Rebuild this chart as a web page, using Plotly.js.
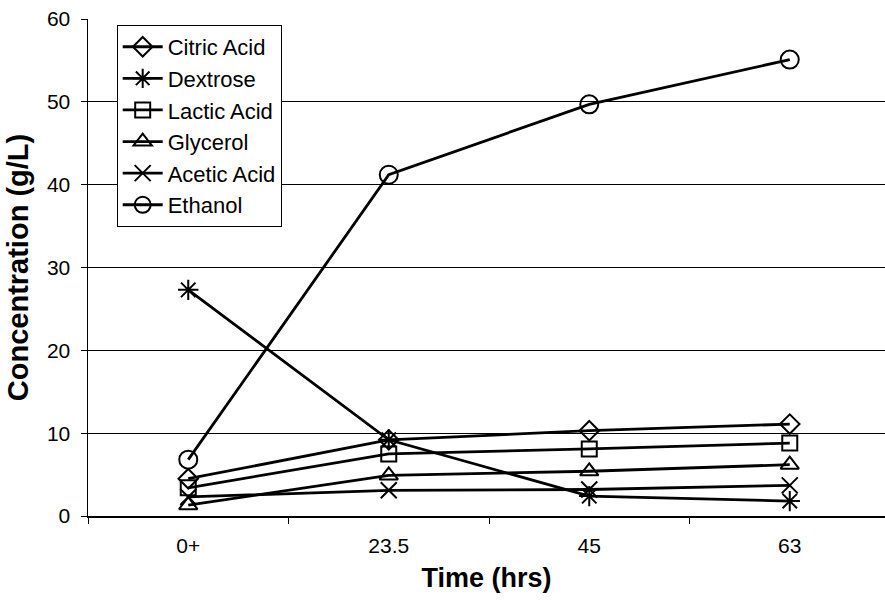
<!DOCTYPE html>
<html>
<head>
<meta charset="utf-8">
<script src="https://cdn.plot.ly/plotly-3.0.1.min.js"></script>
<style>
  html, body { margin: 0; padding: 0; background: #fff; }
  #chart { width: 885px; height: 602px; }
</style>
</head>
<body>
<div id="chart"></div>
<script>
const times = ["0+", "23.5", "45", "63"];
const citricAcid = [4.5, 9.2, 10.3, 11.1];
const dextrose = [27.3, 9.2, 2.4, 1.8];
const lacticAcid = [3.4, 7.5, 8.1, 8.8];
const glycerol = [1.3, 4.9, 5.4, 6.2];
const aceticAcid = [2.3, 3.1, 3.2, 3.7];
const ethanol = [6.8, 41.2, 49.7, 55.1];
const yTicks = [0, 10, 20, 30, 40, 50, 60];

const seriesNames = ["Citric Acid", "Dextrose", "Lactic Acid", "Glycerol", "Acetic Acid", "Ethanol"];
const seriesValues = [citricAcid, dextrose, lacticAcid, glycerol, aceticAcid, ethanol];
const symbols = ["diamond-open", "asterisk-open", "square-open", "triangle-up-open", "x-thin-open", "circle-open"];
const sizes = [15, 17, 15, 16, 16, 18];

const traces = seriesNames.map((name, i) => ({
  type: "scatter",
  mode: "lines+markers",
  name: name,
  x: times,
  y: seriesValues[i],
  line: { color: "#000", width: 2.8 },
  marker: { symbol: symbols[i], size: sizes[i], color: "#000", line: { color: "#000", width: 2 } }
}));

const layout = {
  width: 885,
  height: 602,
  margin: { l: 88, r: 0, t: 19, b: 86 },
  paper_bgcolor: "#fff",
  plot_bgcolor: "#fff",
  font: { family: "Liberation Sans, Arial, sans-serif", color: "#000", size: 21 },
  showlegend: true,
  legend: {
    x: 0.036, y: 0.988, xanchor: "left", yanchor: "top",
    bgcolor: "#fff", bordercolor: "#000", borderwidth: 1,
    font: { size: 22, color: "#000" },
    itemwidth: 40,
    tracegroupgap: 0
  },
  xaxis: {
    type: "category",
    categoryarray: times,
    range: [-0.5, 3.475],
    showgrid: false,
    zeroline: false,
    showline: true, linecolor: "#000", linewidth: 1.5,
    ticks: "outside", ticklen: 6, tickcolor: "#000", tickwidth: 1,
    tickson: "boundaries",
    ticklabelstandoff: 10,
    tickfont: { size: 21 },
    title: { text: "<b>Time (hrs)</b>", font: { size: 27 }, standoff: 12 }
  },
  yaxis: {
    range: [0, 60],
    tickvals: yTicks,
    ticktext: yTicks.map(String),
    showgrid: true, gridcolor: "#000", gridwidth: 1.2,
    zeroline: false,
    showline: true, linecolor: "#000", linewidth: 1.5,
    ticks: "outside", ticklen: 6, tickcolor: "#000", tickwidth: 1,
    ticklabelstandoff: 6,
    tickfont: { size: 21 },
    title: { text: "<b>Concentration (g/L)</b>", font: { size: 29 }, standoff: 10 }
  }
};

Plotly.newPlot("chart", traces, layout, { displayModeBar: false, staticPlot: true });
</script>
</body>
</html>
